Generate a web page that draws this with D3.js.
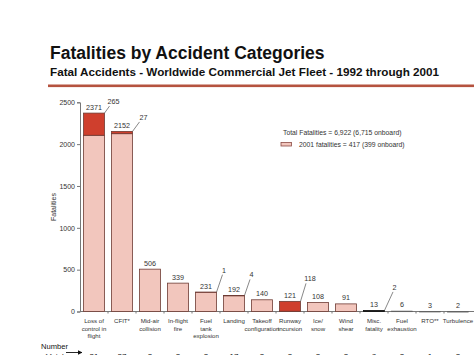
<!DOCTYPE html>
<html><head><meta charset="utf-8">
<script src="https://cdn.jsdelivr.net/npm/d3@7"></script>
<style>
html,body{margin:0;padding:0;background:#fff;}
svg{display:block;font-family:"Liberation Sans",Arial,sans-serif;}
</style></head>
<body>
<svg id="chart" width="474" height="355"></svg>
<script>
const categories = [
  ["Loss of","control in","flight"],["CFIT*"],["Mid-air","collision"],["In-flight","fire"],
  ["Fuel","tank","explosion"],["Landing"],["Takeoff","configuration"],["Runway","incursion"],
  ["Ice/","snow"],["Wind","shear"],["Misc.","fatality"],["Fuel","exhaustion"],["RTO**"],["Turbulence"]
];
const totalFatalities = [2371, 2152, 506, 339, 231, 192, 140, 121, 108, 91, 13, 6, 3, 2];
const fatalities2001  = [265, 27, 0, 0, 1, 4, 0, 118, 0, 0, 2, 0, 0, 0];
const accidents       = [31, 27, 2, 2, 2, 17, 3, 3, 2, 2, 8, 2, 1, 2];
const yTicks = [0, 500, 1000, 1500, 2000, 2500];

const svg = d3.select("#chart");
const pink = "#f2c6bd", red = "#cf3f2d", edge = "#6e3b34", txt = "#333";

// Title
svg.append("text").attr("x", 50).attr("y", 59).attr("font-size", 17.5).attr("font-weight", "bold")
  .attr("fill", "#111").text("Fatalities by Accident Categories");
svg.append("text").attr("x", 50).attr("y", 76).attr("font-size", 11.7).attr("font-weight", "bold")
  .attr("fill", "#111").text("Fatal Accidents - Worldwide Commercial Jet Fleet - 1992 through 2001");
svg.append("rect").attr("x", 48).attr("y", 84.5).attr("width", 430).attr("height", 2.6).attr("fill", "#b5533f");

const x = d3.scaleBand().domain(d3.range(categories.length)).range([80, 472]).paddingInner(0.25).paddingOuter(0.125);
const y = d3.scaleLinear().domain([0, 2500]).range([311.5, 102.3]);

// y axis
const ya = svg.append("g").attr("transform", "translate(80,0)")
  .call(d3.axisLeft(y).tickValues(yTicks).tickFormat(d3.format("d")).tickSize(3).tickPadding(2));
ya.select(".domain").attr("stroke", "#777");
ya.selectAll(".tick line").attr("stroke", "#777");
ya.selectAll(".tick text").attr("font-size", 7).attr("fill", txt).attr("font-family", "Liberation Sans, Arial, sans-serif");

svg.append("text").attr("transform", "translate(56,207) rotate(-90)").attr("text-anchor", "middle")
  .attr("font-size", 7).attr("fill", txt).text("Fatalities");

// x axis line
svg.append("line").attr("x1", 80).attr("x2", 474).attr("y1", y(0)).attr("y2", y(0)).attr("stroke", "#777");
categories.forEach((c, i) => {
  if (i > 0) {
    const bx = x(i) - x.step() * x.paddingInner() / 2;
    svg.append("line").attr("x1", bx).attr("x2", bx).attr("y1", y(0)).attr("y2", y(0) + 2).attr("stroke", "#777");
  }
});

// bars
const g = svg.append("g");
totalFatalities.forEach((v, i) => {
  const x0 = x(i), w = x.bandwidth();
  const r = fatalities2001[i];
  const p = v - r;
  if (i >= 10) {
    g.append("rect").attr("x", x0).attr("y", y(v)).attr("width", w).attr("height", Math.max(y(0) - y(v), 0.8))
      .attr("fill", i === 10 ? "#111" : "#555").attr("stroke", i === 10 ? "#111" : "#666").attr("stroke-width", i === 10 ? 0.8 : 0.5);
    return;
  }
  g.append("rect").attr("x", x0).attr("y", y(p)).attr("width", w).attr("height", y(0) - y(p))
    .attr("fill", pink).attr("stroke", edge).attr("stroke-width", 0.8);
  if (r > 0) {
    g.append("rect").attr("x", x0).attr("y", y(v)).attr("width", w).attr("height", y(p) - y(v))
      .attr("fill", red).attr("stroke", edge).attr("stroke-width", 0.8);
  }
});

// value labels
totalFatalities.forEach((v, i) => {
  svg.append("text").attr("x", x(i) + x.bandwidth() / 2).attr("y", y(v) - 3.5).attr("text-anchor", "middle")
    .attr("font-size", 7.2).attr("fill", txt).text(v);
});

// 2001 annotations with leader lines
const lead = {0: [5, 7], 1: [7, 9.5], 4: [6, 17.5], 5: [5.5, 16], 7: [5.5, 18], 10: [8.5, 18.5]};
fatalities2001.forEach((r, i) => {
  if (r <= 0) return;
  const [dx, dy] = lead[i];
  const x1 = x(i) + x.bandwidth(), y1 = y(totalFatalities[i]);
  svg.append("line").attr("x1", x1).attr("y1", y1).attr("x2", x1 + dx).attr("y2", y1 - dy)
    .attr("stroke", "#555").attr("stroke-width", 0.7);
  svg.append("text").attr("x", x1 + dx + (r > 9 ? 4 : 1.5)).attr("y", y1 - dy - 2).attr("text-anchor", "middle")
    .attr("font-size", 7.2).attr("fill", txt).text(r);
});

// category labels
categories.forEach((lines, i) => {
  const t = svg.append("text").attr("x", x(i) + x.bandwidth() / 2).attr("y", 323).attr("text-anchor", "middle")
    .attr("font-size", 6.1).attr("fill", txt);
  lines.forEach((l, k) => t.append("tspan").attr("x", x(i) + x.bandwidth() / 2).attr("dy", k === 0 ? 0 : 7.6).text(l));
});

// legend
svg.append("text").attr("x", 283).attr("y", 134.5).attr("font-size", 6.8).attr("fill", txt)
  .text("Total Fatalities = 6,922 (6,715 onboard)");
svg.append("rect").attr("x", 281).attr("y", 142.5).attr("width", 10.5).attr("height", 3.5)
  .attr("fill", pink).attr("stroke", "#8a4a44").attr("stroke-width", 0.8);
svg.append("text").attr("x", 299).attr("y", 147.3).attr("font-size", 6.8).attr("fill", txt)
  .text("2001 fatalities = 417 (399 onboard)");

// number of accidents row
svg.append("text").attr("x", 41).attr("y", 349).attr("font-size", 7.6).attr("fill", "#111").text("Number");
svg.append("text").attr("x", 41).attr("y", 358.5).attr("font-size", 7.6).attr("fill", "#111").text("of fatal");
svg.append("defs").append("marker").attr("id", "ah").attr("viewBox", "0 0 10 10").attr("refX", 9).attr("refY", 5)
  .attr("markerWidth", 5).attr("markerHeight", 5).attr("orient", "auto")
  .append("path").attr("d", "M0,0L10,5L0,10Z").attr("fill", "#111");
svg.append("line").attr("x1", 66).attr("y1", 352.5).attr("x2", 82).attr("y2", 352.5)
  .attr("stroke", "#111").attr("stroke-width", 0.9).attr("marker-end", "url(#ah)");
accidents.forEach((n, i) => {
  svg.append("text").attr("x", x(i) + x.bandwidth() / 2).attr("y", 358.5).attr("text-anchor", "middle")
    .attr("font-size", 8).attr("fill", "#111").text(n);
});
</script>
</body></html>
